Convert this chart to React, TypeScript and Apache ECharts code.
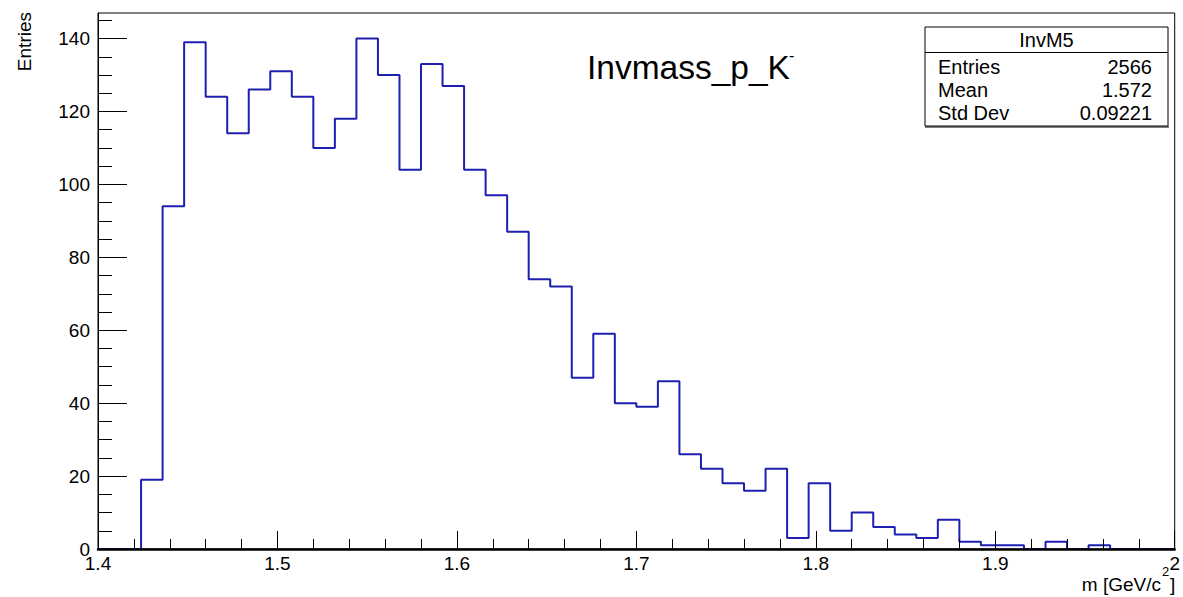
import React, { useEffect, useRef } from "react";
import * as echarts from "echarts";

// Histogram binning (50 bins from 1.4 to 2.0)
const binLow = 1.4;
const binWidth = 0.012;
const counts = [
  0, 0, 19, 94, 139, 124, 114, 126, 131, 124,
  110, 118, 140, 130, 104, 133, 127, 104, 97, 87,
  74, 72, 47, 59, 40, 39, 46, 26, 22, 18,
  16, 22, 3, 18, 5, 10, 6, 4, 3, 8,
  2, 1, 1, 0, 2, 0, 1, 0, 0, 0,
];
const xMin = 1.4;
const xMax = 2.0;
const yMin = 0;
const yMax = 147;
const xMajorTicks = [1.4, 1.5, 1.6, 1.7, 1.8, 1.9, 2.0];
const xMinorTicks = [
  1.42, 1.44, 1.46, 1.48, 1.52, 1.54, 1.56, 1.58, 1.62, 1.64, 1.66, 1.68,
  1.72, 1.74, 1.76, 1.78, 1.82, 1.84, 1.86, 1.88, 1.92, 1.94, 1.96, 1.98,
];
const yMajorTicks = [0, 20, 40, 60, 80, 100, 120, 140];
const yMinorTicks = [
  5, 10, 15, 25, 30, 35, 45, 50, 55, 65, 70, 75, 85, 90, 95, 105, 110, 115,
  125, 130, 135, 145,
];
const titleText = "Invmass_p_K";
const titleSup = "-";
const xTitleMain = "m [GeV/c";
const xTitleSup = "2";
const xTitleEnd = "]";
const yTitle = "Entries";
const statsName = "InvM5";
const statsLabels = ["Entries", "Mean", "Std Dev"];
const statsValues = ["2566", "1.572", "0.09221"];

const FONT = "'Liberation Sans', Arial, Helvetica, sans-serif";

export default function App() {
  const ref = useRef<HTMLDivElement>(null);

  useEffect(() => {
    if (!ref.current) return;
    const chart = echarts.init(ref.current, null, { renderer: "svg" });

    const data: [number, number][] = counts.map((c, k) => [
      +(binLow + k * binWidth).toFixed(3),
      c,
    ]);
    data.push([xMax, counts[counts.length - 1]]);

    const tickStyle = { color: "#000", width: 1 };
    const rowY = [66.5, 89.5, 113];

    const option: any = {
      animation: false,
      backgroundColor: "#fff",
      grid: {
        left: 98,
        right: 7,
        top: 13,
        bottom: 48,
        show: true,
        borderColor: "#000",
        borderWidth: 1,
        backgroundColor: "transparent",
        containLabel: false,
      },
      xAxis: [
        {
          type: "value",
          min: xMin,
          max: xMax,
          position: "bottom",
          z: 5,
          axisLine: {
            show: true,
            onZero: false,
            lineStyle: { color: "#000", width: 2.5 },
          },
          axisTick: {
            show: true,
            inside: true,
            length: 18,
            customValues: xMajorTicks,
            lineStyle: tickStyle,
          },
          axisLabel: {
            customValues: xMajorTicks,
            formatter: (v: number) => String(+v.toFixed(1)),
            fontSize: 19,
            fontFamily: FONT,
            color: "#000",
            margin: 5,
          },
          splitLine: { show: false },
        },
        {
          type: "value",
          min: xMin,
          max: xMax,
          position: "bottom",
          z: 5,
          axisLine: { show: false },
          axisTick: {
            show: true,
            inside: true,
            length: 10,
            customValues: xMinorTicks,
            lineStyle: tickStyle,
          },
          axisLabel: { show: false },
          splitLine: { show: false },
        },
      ],
      yAxis: [
        {
          type: "value",
          min: yMin,
          max: yMax,
          position: "left",
          z: 5,
          axisLine: { show: true, onZero: false, lineStyle: tickStyle },
          axisTick: {
            show: true,
            inside: true,
            length: 29,
            customValues: yMajorTicks,
            lineStyle: tickStyle,
          },
          axisLabel: {
            customValues: yMajorTicks,
            fontSize: 19,
            fontFamily: FONT,
            color: "#000",
            margin: 8,
          },
          splitLine: { show: false },
        },
        {
          type: "value",
          min: yMin,
          max: yMax,
          position: "left",
          z: 5,
          axisLine: { show: false },
          axisTick: {
            show: true,
            inside: true,
            length: 14,
            customValues: yMinorTicks,
            lineStyle: tickStyle,
          },
          axisLabel: { show: false },
          splitLine: { show: false },
        },
      ],
      series: [
        {
          type: "line",
          xAxisIndex: 0,
          yAxisIndex: 0,
          step: "end",
          data,
          symbol: "none",
          showSymbol: false,
          lineStyle: { color: "#1e1eb0", width: 2 },
          z: 2,
          clip: true,
        },
      ],
      graphic: [
        {
          type: "text",
          x: 587,
          y: 67,
          style: {
            text: titleText,
            fontSize: 33.5,
            fontFamily: FONT,
            fill: "#000",
            align: "left",
            verticalAlign: "middle",
          },
        },
        {
          type: "text",
          x: 789,
          y: 55,
          style: {
            text: titleSup,
            fontSize: 16,
            fontFamily: FONT,
            fill: "#000",
            align: "left",
            verticalAlign: "middle",
          },
        },
        {
          type: "rect",
          shape: { x: 925, y: 27, width: 243, height: 99 },
          style: { fill: "#fff", stroke: "#000", lineWidth: 1 },
          z: 10,
        },
        {
          type: "line",
          shape: { x1: 925, y1: 127, x2: 1169, y2: 127 },
          style: { stroke: "#000", lineWidth: 1 },
          z: 10,
        },
        {
          type: "line",
          shape: { x1: 925, y1: 52.5, x2: 1168, y2: 52.5 },
          style: { stroke: "#000", lineWidth: 1 },
          z: 11,
        },
        {
          type: "text",
          x: 1046.5,
          y: 40,
          z: 11,
          style: {
            text: statsName,
            fontSize: 20,
            fontFamily: FONT,
            fill: "#000",
            align: "center",
            verticalAlign: "middle",
          },
        },
        ...statsLabels.map((t, i) => ({
          type: "text",
          x: 938,
          y: rowY[i],
          z: 11,
          style: {
            text: t,
            fontSize: 20,
            fontFamily: FONT,
            fill: "#000",
            align: "left",
            verticalAlign: "middle",
          },
        })),
        ...statsValues.map((t, i) => ({
          type: "text",
          x: 1152,
          y: rowY[i],
          z: 11,
          style: {
            text: t,
            fontSize: 20,
            fontFamily: FONT,
            fill: "#000",
            align: "right",
            verticalAlign: "middle",
          },
        })),
        {
          type: "text",
          x: 24,
          y: 12,
          rotation: Math.PI / 2,
          style: {
            text: yTitle,
            fontSize: 19,
            fontFamily: FONT,
            fill: "#000",
            align: "right",
            verticalAlign: "middle",
          },
        },
        {
          type: "text",
          x: 1161,
          y: 584,
          style: {
            text: xTitleMain,
            fontSize: 19,
            fontFamily: FONT,
            fill: "#000",
            align: "right",
            verticalAlign: "middle",
          },
        },
        {
          type: "text",
          x: 1162,
          y: 571,
          style: {
            text: xTitleSup,
            fontSize: 13,
            fontFamily: FONT,
            fill: "#000",
            align: "left",
            verticalAlign: "middle",
          },
        },
        {
          type: "text",
          x: 1170,
          y: 584,
          style: {
            text: xTitleEnd,
            fontSize: 19,
            fontFamily: FONT,
            fill: "#000",
            align: "left",
            verticalAlign: "middle",
          },
        },
      ],
    };

    chart.setOption(option);
    return () => chart.dispose();
  }, []);

  return (
    <div
      ref={ref}
      style={{
        position: "fixed",
        left: 0,
        top: 0,
        width: 1183,
        height: 597,
        background: "#fff",
      }}
    />
  );
}
